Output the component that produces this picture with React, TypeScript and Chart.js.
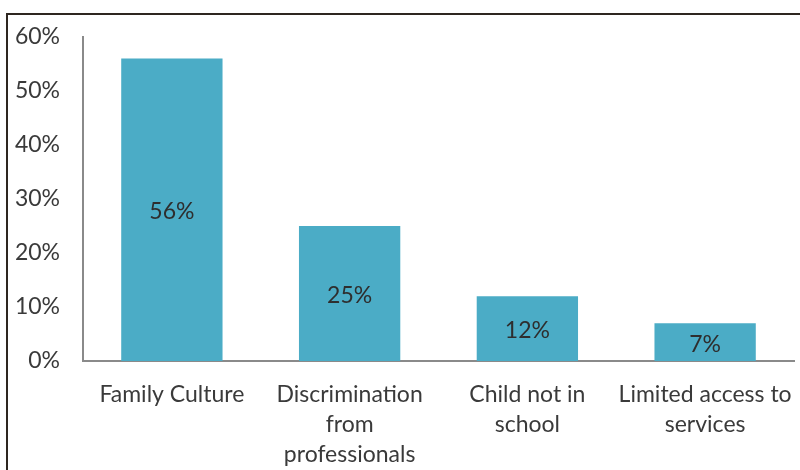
import React, { useEffect, useRef } from "react";
import { Chart, registerables } from "chart.js";

Chart.register(...registerables);

const categories: string[][] = [
  ["Family Culture"],
  ["Discrimination", "from", "professionals"],
  ["Child not in", "school"],
  ["Limited access to", "services"],
];
const values: number[] = [56, 25, 12, 7];
const yTicks: number[] = [0, 10, 20, 30, 40, 50, 60];

const FONT = "Lato, 'Open Sans', sans-serif";
const TEXT = "#3a3a3a";
const BAR = "#4BACC6";
const AXIS = "#8a8a8a";

const framePlugin = {
  id: "frame",
  beforeDraw(chart: any) {
    const ctx = chart.ctx;
    ctx.save();
    ctx.fillStyle = "#ffffff";
    ctx.fillRect(0, 0, chart.width, chart.height);
    ctx.fillStyle = "#2e2620";
    ctx.fillRect(6, 13, chart.width - 6, 2);
    ctx.fillRect(6, 13, 2, chart.height - 13);
    ctx.restore();
  },
};

const valueLabels = {
  id: "valueLabels",
  afterDatasetsDraw(chart: any) {
    const ctx = chart.ctx;
    const meta = chart.getDatasetMeta(0);
    const ds = chart.data.datasets[0];
    ctx.save();
    ctx.font = `23px ${FONT}`;
    ctx.fillStyle = "#2e2e2e";
    ctx.textAlign = "center";
    ctx.textBaseline = "middle";
    meta.data.forEach((bar: any, i: number) => {
      const { x, y, base } = bar.getProps(["x", "y", "base"], true);
      ctx.fillText(`${ds.data[i]}%`, x, (y + base) / 2 + 2);
    });
    ctx.restore();
  },
};

export default function App() {
  const ref = useRef<HTMLCanvasElement>(null);
  useEffect(() => {
    document.body.style.margin = "0";
    const chart = new Chart(ref.current!, {
      type: "bar",
      data: {
        labels: categories,
        datasets: [
          {
            data: values,
            backgroundColor: BAR,
            barPercentage: 0.57,
            categoryPercentage: 1,
          },
        ],
      },
      options: {
        responsive: false,
        animation: false,
        layout: { padding: { left: 0, top: 37, right: 6, bottom: 0 } },
        plugins: { legend: { display: false }, tooltip: { enabled: false } },
        scales: {
          x: {
            offset: true,
            grid: { display: false, drawTicks: false },
            border: { display: true, color: AXIS, width: 2 },
            ticks: {
              color: TEXT,
              font: { family: FONT, size: 23, lineHeight: 1.32 },
              padding: 18,
              maxRotation: 0,
              autoSkip: false,
            },
            afterFit(scale: any) {
              scale.height = 109;
              scale.paddingLeft = 0;
              scale.paddingRight = 0;
            },
          },
          y: {
            min: 0,
            max: 60,
            afterBuildTicks(scale: any) {
              scale.ticks = yTicks.map((v) => ({ value: v }));
            },
            grid: { display: false, drawTicks: false },
            border: { display: true, color: AXIS, width: 2 },
            ticks: {
              color: TEXT,
              font: { family: FONT, size: 23 },
              padding: 23,
              callback: (v: any) => `${v}%`,
            },
            afterFit(scale: any) {
              scale.width = 83;
              scale.paddingTop = 0;
              scale.paddingBottom = 0;
            },
          },
        },
      },
      plugins: [framePlugin, valueLabels],
    });
    return () => chart.destroy();
  }, []);
  return <canvas ref={ref} width={800} height={470} style={{ display: "block" }} />;
}
